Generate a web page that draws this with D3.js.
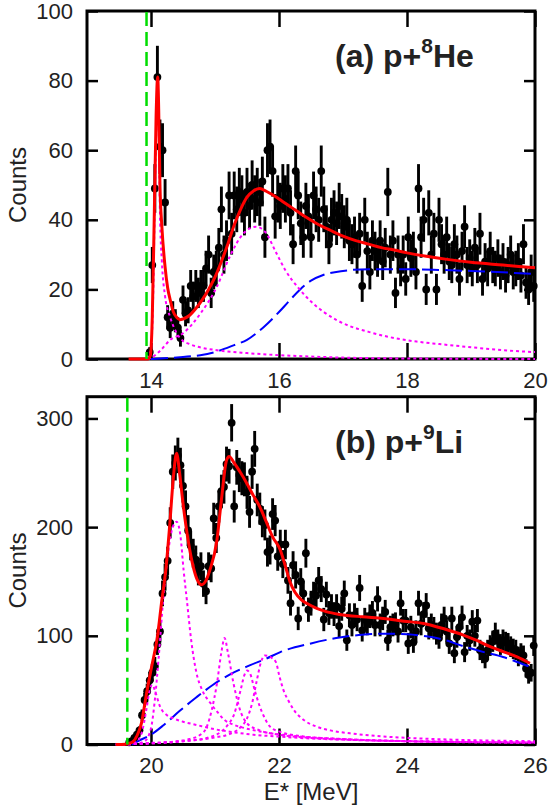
<!DOCTYPE html>
<html>
<head>
<meta charset="utf-8">
<script src="https://cdn.jsdelivr.net/npm/d3@7/dist/d3.min.js"></script>
<style>
  html, body { margin: 0; padding: 0; background: #fff; }
  svg { display: block; font-family: "Liberation Sans", Arial, Helvetica, sans-serif; }
</style>
</head>
<body>
<svg id="chart" width="549" height="810"></svg>
<script>
// ---------- (a) p + 8He ----------
const heXTicks = [14, 16, 18, 20];
const heYTicks = [0, 20, 40, 60, 80, 100];
const heThreshold = 13.93;

// [E* (MeV), counts]
const heCounts = [
  [13.98,2],[14.02,27],[14.06,49],[14.10,81],[14.14,61],[14.18,60],[14.22,45],[14.26,12],[14.30,9],[14.34,13],
  [14.38,11],[14.42,9],[14.46,6],[14.50,17],[14.54,13],[14.58,14],[14.62,21],[14.66,18],[14.70,21],[14.74,19],
  [14.78,21],[14.82,21],[14.86,26],[14.90,30],[14.94,19],[14.98,25],[15.02,26],[15.06,32],[15.10,43],[15.14,30],
  [15.18,34],[15.22,47],[15.26,36],[15.30,47],[15.34,43],[15.38,48],[15.42,46],[15.46,42],[15.50,48],[15.54,44],
  [15.58,50],[15.62,46],[15.66,48],[15.70,45],[15.74,51],[15.78,35],[15.82,60],[15.86,61],[15.90,54],[15.94,41],
  [15.98,46],[16.02,44],[16.06,49],[16.10,46],[16.14,49],[16.18,42],[16.22,33],[16.26,54],[16.30,47],[16.34,39],
  [16.38,35],[16.42,44],[16.46,41],[16.50,35],[16.54,47],[16.58,43],[16.62,40],[16.66,54],[16.70,43],[16.74,38],
  [16.78,33],[16.82,40],[16.86,42],[16.90,39],[16.94,44],[16.98,41],[17.02,38],[17.06,40],[17.10,34],[17.14,33],
  [17.18,35],[17.22,30],[17.26,36],[17.30,21],[17.34,40],[17.38,31],[17.42,25],[17.46,34],[17.50,31],[17.54,29],
  [17.58,34],[17.62,28],[17.66,32],[17.70,48],[17.74,30],[17.78,34],[17.82,19],[17.86,30],[17.90,26],[17.94,30],
  [17.98,23],[18.02,35],[18.06,29],[18.10,31],[18.14,25],[18.18,49],[18.22,35],[18.26,40],[18.30,20],[18.34,42],
  [18.38,30],[18.42,36],[18.46,20],[18.50,40],[18.54,33],[18.58,30],[18.62,35],[18.66,28],[18.70,27],[18.74,33],
  [18.78,30],[18.82,23],[18.86,31],[18.90,38],[18.94,27],[18.98,29],[19.02,26],[19.06,32],[19.10,27],[19.14,36],
  [19.18,23],[19.22,28],[19.26,26],[19.30,31],[19.34,27],[19.38,26],[19.42,29],[19.46,25],[19.50,28],[19.54,24],
  [19.58,27],[19.62,30],[19.66,25],[19.70,26],[19.74,28],[19.78,24],[19.82,33],[19.86,22],[19.90,20],[19.94,25],
  [19.98,21]
];

const heFit = [
  [13.65,0],[13.95,0],[13.99,1],[14.02,12],[14.05,40],[14.08,70],[14.105,81],[14.12,72],[14.14,50],[14.17,38],
  [14.22,26.5],[14.26,20.5],[14.30,17],[14.35,13.5],[14.40,12],[14.45,11.3],[14.50,11.5],[14.60,12.5],[14.70,14.5],
  [14.80,17],[14.90,20],[15.00,23.5],[15.10,28],[15.20,33],[15.30,38.5],[15.40,43],[15.50,46.5],[15.60,48.3],
  [15.70,49],[15.80,48.2],[15.90,47.2],[16.00,46],[16.20,43.5],[16.40,41],[16.60,38.8],[16.80,37],[17.00,35.3],
  [17.20,34],[17.40,33],[17.60,32],[17.80,31.3],[18.00,30.5],[18.30,29.5],[18.60,28.7],[19.00,27.8],[19.50,27],
  [20.00,26.2]
];

const heNarrow = [
  [13.95,0],[14.00,3],[14.03,15],[14.06,45],[14.09,72],[14.105,78],[14.12,68],[14.14,42],[14.17,28],[14.22,18],
  [14.30,12],[14.40,7.5],[14.50,5.2],[14.60,4.3],[14.80,3.2],[15.00,2.6],[15.50,1.7],[16.00,1.1],[16.50,0.7],
  [17.00,0.4],[18.00,0.15],[20.00,0]
];

const heBroad = [
  [13.95,0],[14.00,0.3],[14.15,2.5],[14.30,5.5],[14.50,7.4],[14.77,13],[15.03,20.8],[15.23,29.4],[15.44,36],
  [15.64,38],[15.78,36.6],[15.96,30.4],[16.10,25.5],[16.30,20.5],[16.50,16.5],[16.70,13.5],[16.90,11.2],[17.10,9.5],
  [17.40,7.8],[17.70,6.4],[18.15,5],[18.50,4.3],[18.93,3.5],[19.40,2.7],[19.87,2.1],[20.00,2]
];

const heBackground = [
  [14.00,0],[14.50,0.6],[14.77,1.1],[15.00,2.0],[15.30,4],[15.50,5.5],[15.75,9],[16.00,13.5],[16.15,16.5],
  [16.33,20],[16.50,22.5],[16.70,24.2],[17.00,25.3],[17.40,25.8],[18.00,25.8],[18.50,25.6],[19.00,25.3],
  [19.50,24.9],[20.00,24.4]
];

// ---------- (b) p + 9Li ----------
const liXTicks = [20, 22, 24, 26];
const liYTicks = [0, 100, 200, 300];
const liThreshold = 19.63;

const liCounts = [
  [19.66,2],[19.70,3],[19.74,6],[19.78,9],[19.82,13],[19.86,27],[19.90,41],[19.94,49],[19.98,59],[20.02,66],
  [20.06,72],[20.10,92],[20.14,104],[20.18,139],[20.22,154],[20.26,169],[20.30,204],[20.34,251],[20.38,259],[20.42,266],
  [20.46,257],[20.50,238],[20.54,219],[20.58,197],[20.62,183],[20.66,176],[20.70,170],[20.74,159],[20.78,164],[20.82,148],
  [20.86,141],[20.90,164],[20.94,162],[20.98,208],[21.02,190],[21.06,219],[21.10,233],[21.14,237],[21.18,258],[21.22,256],
  [21.26,296],[21.30,219],[21.34,255],[21.38,248],[21.42,245],[21.46,244],[21.50,232],[21.54,214],[21.58,251],[21.62,272],
  [21.66,225],[21.70,217],[21.74,205],[21.78,202],[21.82,177],[21.86,179],[21.90,212],[21.94,206],[21.98,173],[22.02,184],
  [22.06,166],[22.10,184],[22.14,151],[22.18,130],[22.22,165],[22.26,156],[22.30,116],[22.34,150],[22.38,139],[22.42,176],
  [22.46,124],[22.50,130],[22.54,138],[22.58,137],[22.62,151],[22.66,143],[22.70,115],[22.74,138],[22.78,121],[22.82,127],
  [22.86,120],[22.90,127],[22.94,109],[22.98,125],[23.02,139],[23.06,96],[23.10,119],[23.14,110],[23.18,119],[23.22,115],
  [23.26,144],[23.30,105],[23.34,115],[23.38,111],[23.42,118],[23.46,121],[23.50,110],[23.54,134],[23.58,110],[23.62,116],
  [23.66,122],[23.70,96],[23.74,108],[23.78,110],[23.82,111],[23.86,104],[23.90,130],[23.94,114],[23.98,114],[24.02,93],
  [24.06,108],[24.10,94],[24.14,104],[24.18,130],[24.22,111],[24.26,120],[24.30,128],[24.34,107],[24.38,110],[24.42,107],
  [24.46,102],[24.50,98],[24.54,110],[24.58,116],[24.62,104],[24.66,93],[24.70,116],[24.74,84],[24.78,99],[24.82,108],
  [24.86,117],[24.90,85],[24.94,100],[24.98,96],[25.02,113],[25.06,100],[25.10,114],[25.14,87],[25.18,84],[25.22,79],
  [25.26,87],[25.30,91],[25.34,95],[25.38,102],[25.42,96],[25.46,92],[25.50,96],[25.54,94],[25.58,93],[25.62,90],
  [25.66,88],[25.70,87],[25.74,81],[25.78,84],[25.82,82],[25.86,70],[25.90,64],[25.94,66],[25.98,91]
];

const liFit = [
  [19.45,0],[19.60,0.3],[19.68,1.5],[19.72,2.6],[19.78,8],[19.85,19.5],[19.93,47],[20.01,71.5],[20.10,99],[20.17,133],
  [20.23,160],[20.29,200],[20.35,246],[20.40,268],[20.45,248],[20.50,222],[20.58,188],[20.66,163.5],[20.72,152],[20.79,147],
  [20.86,151],[20.92,160.5],[21.03,188],[21.10,225],[21.18,261.6],[21.22,265],[21.30,259],[21.40,250],[21.50,240],[21.60,229],
  [21.70,218.7],[21.80,205],[21.90,191],[22.02,179],[22.10,164],[22.17,150],[22.25,140],[22.35,133],[22.46,129],[22.59,125.2],
  [22.75,122],[22.95,119.7],[23.30,117.5],[23.63,116],[23.95,113.5],[24.26,111.4],[24.60,106],[24.88,100.7],[25.10,95.5],
  [25.30,90],[25.50,85.5],[25.72,80.7],[25.92,74.7]
];

const liRes1 = [
  [19.45,0],[19.70,0.5],[19.80,4],[19.87,14],[19.93,33],[19.98,50],[20.02,55],[20.07,48],[20.14,35],[20.25,27],
  [20.35,24],[20.50,21],[20.71,18],[21.00,14],[21.23,11.8],[21.60,9],[22.02,7.2],[22.50,5.5],[23.00,4.5],[24.00,3.2],
  [25.00,2.5],[26.00,2]
];
const liRes2 = [
  [19.45,0],[19.75,0.5],[19.90,3],[20.00,15],[20.06,41],[20.12,80],[20.19,133],[20.27,178],[20.34,200],[20.40,205],
  [20.46,192],[20.51,160],[20.56,133],[20.63,95],[20.71,66],[20.80,50],[20.93,38],[21.05,29],[21.14,23],[21.30,18],
  [21.47,15],[21.80,11],[22.20,8],[23.00,5],[24.00,3],[25.00,2],[26.00,1.5]
];
const liRes3 = [
  [19.45,0],[19.80,0.8],[20.00,1.5],[20.40,3],[20.60,5],[20.77,9],[20.87,16],[20.95,32],[21.03,56],[21.10,85],
  [21.15,98],[21.20,85],[21.29,56],[21.39,32],[21.50,19.5],[21.70,13],[22.00,9],[22.50,6],[23.00,4.5],[24.00,3],
  [25.00,2.2],[26.00,1.8]
];
const liRes4 = [
  [19.45,0],[20.00,1],[20.50,3],[20.90,6.5],[21.10,12],[21.20,18],[21.30,28],[21.40,50],[21.46,64],[21.50,68],
  [21.55,65],[21.62,50],[21.70,35],[21.78,24],[21.86,16.4],[22.00,12],[22.30,8],[23.00,5],[24.00,3],[25.00,2.2],
  [26.00,1.8]
];
const liRes5 = [
  [19.45,0],[20.00,1],[20.50,3],[21.00,6.5],[21.20,9],[21.40,16],[21.50,24],[21.58,38],[21.65,58],[21.72,76],
  [21.78,82],[21.88,80],[21.95,76],[22.01,62],[22.07,50],[22.15,40],[22.23,32],[22.40,22],[22.59,16.4],[22.80,13],
  [23.11,10.3],[23.60,7.5],[24.15,5.7],[25.00,4],[26.00,3]
];

const liBackground = [
  [19.70,0],[19.83,4],[20.00,9],[20.20,18],[20.45,31],[20.70,43],[20.97,55],[21.25,65],[21.55,73],[21.80,79],
  [22.02,85],[22.50,93],[22.95,98.5],[23.30,101],[23.65,102],[24.00,101.5],[24.30,99.5],[24.60,96],[24.90,90],
  [25.20,85],[25.50,80.5],[25.92,71.5]
];

// ---------- layout ----------
const left = 87, right = 535;
const panels = [
  { top: 11, bottom: 359, xDomain: [13, 20], yDomain: [0, 100],
    xTicks: heXTicks, yTicks: heYTicks, counts: heCounts, fit: heFit,
    parts: [heNarrow, heBroad], bg: heBackground, threshold: heThreshold,
    label: ["(a) p+", "8", "He"] },
  { top: 396.7, bottom: 744.5, xDomain: [19, 26], yDomain: [0, 320],
    xTicks: liXTicks, yTicks: liYTicks, counts: liCounts, fit: liFit,
    parts: [liRes1, liRes2, liRes3, liRes4, liRes5], bg: liBackground, threshold: liThreshold,
    label: ["(b) p+", "9", "Li"] }
];

const svg = d3.select("#chart");
const fmt = d3.format("d");

panels.forEach(function(p) {
  const x = d3.scaleLinear().domain(p.xDomain).range([left, right]);
  const y = d3.scaleLinear().domain(p.yDomain).range([p.bottom, p.top]);
  const g = svg.append("g");

  function styleAxis(sel) {
    sel.select(".domain").remove();
    sel.selectAll("line").attr("stroke", "#000").attr("stroke-width", 2.5);
    sel.selectAll("text")
      .attr("font-family", "'Liberation Sans', Arial, sans-serif")
      .attr("font-size", 22)
      .attr("fill", "#222");
  }

  // frame
  g.append("rect")
    .attr("x", left).attr("y", p.top)
    .attr("width", right - left).attr("height", p.bottom - p.top)
    .attr("fill", "none").attr("stroke", "#000").attr("stroke-width", 3);

  g.append("g").attr("transform", `translate(0,${p.bottom})`)
    .call(d3.axisBottom(x).tickValues(p.xTicks).tickFormat(fmt).tickSizeInner(-16).tickSizeOuter(0).tickPadding(13))
    .call(styleAxis);
  g.append("g").attr("transform", `translate(0,${p.top})`)
    .call(d3.axisTop(x).tickValues(p.xTicks).tickSizeInner(-16).tickSizeOuter(0).tickFormat(""))
    .call(styleAxis);
  g.append("g").attr("transform", `translate(${left},0)`)
    .call(d3.axisLeft(y).tickValues(p.yTicks).tickFormat(fmt).tickSizeInner(-11).tickSizeOuter(0).tickPadding(14))
    .call(styleAxis);
  g.append("g").attr("transform", `translate(${right},0)`)
    .call(d3.axisRight(y).tickValues(p.yTicks).tickSizeInner(-11).tickSizeOuter(0).tickFormat(""))
    .call(styleAxis);

  // data points with sqrt(N) error bars
  const pts = g.append("g");
  pts.selectAll("line")
    .data(p.counts)
    .enter().append("line")
    .attr("x1", d => x(d[0])).attr("x2", d => x(d[0]))
    .attr("y1", d => y(d[1] + Math.sqrt(d[1])))
    .attr("y2", d => y(Math.max(0, d[1] - Math.sqrt(d[1]))))
    .attr("stroke", "#000").attr("stroke-width", 2.9);
  pts.selectAll("circle")
    .data(p.counts)
    .enter().append("circle")
    .attr("cx", d => x(d[0])).attr("cy", d => y(d[1]))
    .attr("r", 3.9).attr("fill", "#000");

  const line = d3.line()
    .x(d => x(d[0])).y(d => y(d[1]))
    .curve(d3.curveMonotoneX);

  // background (blue long dash)
  g.append("path").datum(p.bg)
    .attr("d", line).attr("fill", "none")
    .attr("stroke", "#0000ff").attr("stroke-width", 2)
    .attr("stroke-dasharray", "17,6");

  // resonance components (magenta dotted)
  g.append("g").selectAll("path")
    .data(p.parts)
    .enter().append("path")
    .attr("d", line).attr("fill", "none")
    .attr("stroke", "#ff00ff").attr("stroke-width", 2)
    .attr("stroke-dasharray", "3,3");

  // total fit
  g.append("path").datum(p.fit)
    .attr("d", line).attr("fill", "none")
    .attr("stroke", "#ff0000").attr("stroke-width", 3)
    .attr("stroke-linejoin", "round");

  // threshold line
  g.append("line")
    .attr("x1", x(p.threshold)).attr("x2", x(p.threshold))
    .attr("y1", p.top + 1).attr("y2", p.bottom)
    .attr("stroke", "#00dd00").attr("stroke-width", 2.5)
    .attr("stroke-dasharray", "14,6");

  // panel label
  const t = g.append("text")
    .attr("x", 335).attr("y", p.top + 56)
    .attr("font-size", 32).attr("font-weight", "bold").attr("fill", "#222");
  t.append("tspan").text(p.label[0]);
  t.append("tspan").attr("font-size", 21).attr("dy", -14).text(p.label[1]);
  t.append("tspan").attr("dy", 14).text(p.label[2]);

  // y label
  svg.append("text")
    .attr("transform", `translate(17.5,${(p.top + p.bottom) / 2}) rotate(-90)`)
    .attr("text-anchor", "middle").attr("dy", "0.35em")
    .attr("font-size", 24).attr("fill", "#222")
    .text("Counts");
});

svg.append("text")
  .attr("x", (left + right) / 2).attr("y", 800)
  .attr("text-anchor", "middle")
  .attr("font-size", 24).attr("fill", "#222")
  .text("E* [MeV]");
</script>
</body>
</html>
